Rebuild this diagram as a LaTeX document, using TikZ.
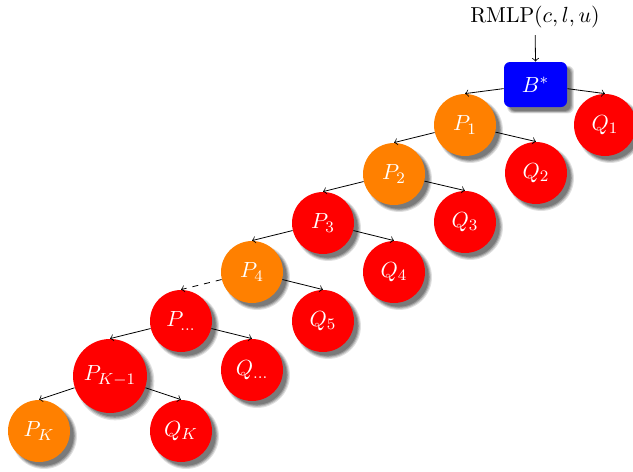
\documentclass[tikz,border=0pt]{standalone}
\usetikzlibrary{shadows}
\begin{document}
\begin{tikzpicture}[x=0.5pt,y=-0.5pt,
  font=\fontsize{10.8}{13}\selectfont,
  softshadow/.style={
    drop shadow={shadow xshift=2.4pt,shadow yshift=-2.4pt,shadow scale=1.06,fill=black,opacity=.12},
    drop shadow={shadow xshift=2.4pt,shadow yshift=-2.4pt,shadow scale=1.03,fill=black,opacity=.15},
    drop shadow={shadow xshift=2.4pt,shadow yshift=-2.4pt,shadow scale=1.0,fill=black,opacity=.2},
    drop shadow={shadow xshift=2.4pt,shadow yshift=-2.4pt,shadow scale=0.97,fill=black,opacity=.2}},
  nd/.style={circle,inner sep=0pt,minimum size=31pt,text=white,softshadow},
  pnode/.style={nd,fill=orange},
  qnode/.style={nd,fill=red},
  bnode/.style={rectangle,rounded corners=3pt,fill=blue,text=white,inner sep=0pt,
    minimum width=31.5pt,minimum height=22.5pt,softshadow},
  edge/.style={->,black}]
\useasboundingbox (0,0) rectangle (633,472);
\node (lab) at (535,17) {RMLP$(c,l,u)$};
\node[bnode] (B) at (535.5,84.5) {$B^*$};
\node[pnode] (P1) at (465,125) {$P_1$};
\node[qnode] (Q1) at (605,125) {$Q_1$};
\node[pnode] (P2) at (394,174) {$P_2$};
\node[qnode] (Q2) at (536,173) {$Q_2$};
\node[qnode] (P3) at (323,223) {$P_3$};
\node[qnode] (Q3) at (465,222) {$Q_3$};
\node[pnode] (P4) at (252,272) {$P_4$};
\node[qnode] (Q4) at (394,272) {$Q_4$};
\node[qnode] (Pd) at (181,321) {$P_{\ldots}$};
\node[qnode] (Q5) at (323,321) {$Q_5$};
\node[qnode,minimum size=37pt] (PK1) at (110,376) {$P_{K-1}$};
\node[qnode] (Qd) at (252,370) {$Q_{\ldots}$};
\node[pnode] (PK) at (39,431) {$P_K$};
\node[qnode] (QK) at (181,431) {$Q_K$};
\draw[edge] (lab) -- (B.north);
\draw[edge] (B) -- (P1.north);
\draw[edge] (B) -- (Q1.north);
\draw[edge] (P1) -- (P2.north);
\draw[edge] (P1) -- (Q2.north);
\draw[edge] (P2) -- (P3.north);
\draw[edge] (P2) -- (Q3.north);
\draw[edge] (P3) -- (P4.north);
\draw[edge] (P3) -- (Q4.north);
\draw[edge,dashed] (P4) -- (Pd.north);
\draw[edge] (P4) -- (Q5.north);
\draw[edge] (Pd) -- (PK1.north);
\draw[edge] (Pd) -- (Qd.north);
\draw[edge] (PK1) -- (PK.north);
\draw[edge] (PK1) -- (QK.north);
\end{tikzpicture}
\end{document}
